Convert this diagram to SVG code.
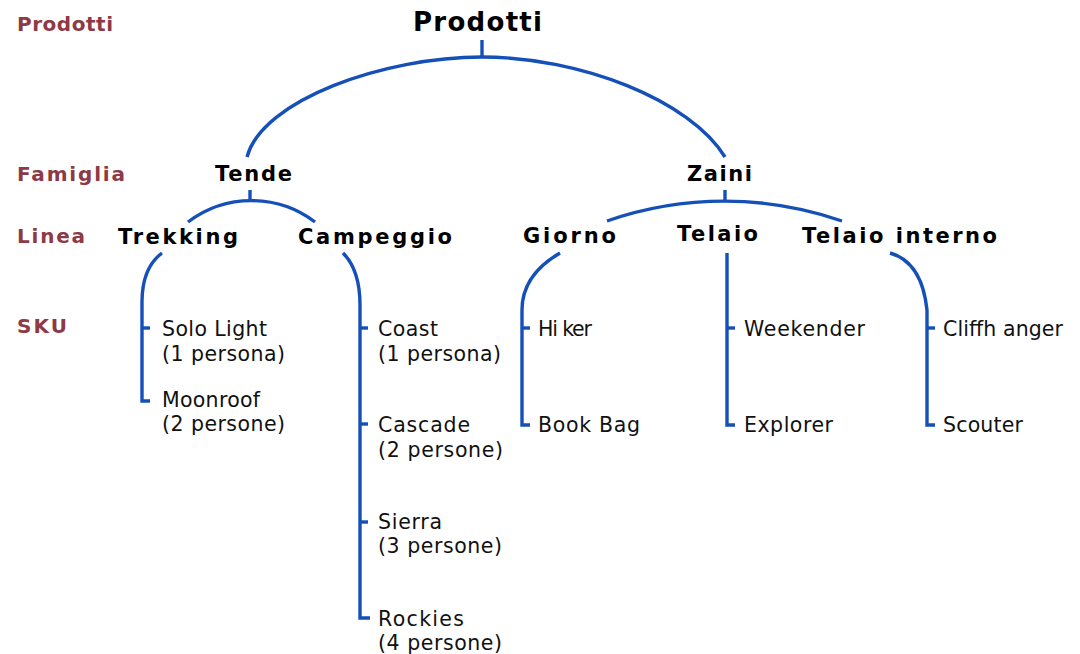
<svg xmlns="http://www.w3.org/2000/svg" width="1080" height="654" viewBox="0 0 1080 654">
  <style>
    .lvl { font-family: "DejaVu Sans", Verdana, sans-serif; font-weight: bold; font-size: 20px; fill: #8e3a46; }
    .title { font-family: "DejaVu Sans", Verdana, sans-serif; font-weight: bold; font-size: 26px; fill: #000; }
    .hd { font-family: "DejaVu Sans", Verdana, sans-serif; font-weight: bold; font-size: 21px; fill: #000; }
    .sku { font-family: "DejaVu Sans", Verdana, sans-serif; font-size: 20.5px; fill: #111; }
    .wire { fill: none; stroke: #1450b8; stroke-width: 3.4; stroke-linecap: butt; stroke-linejoin: miter; }
  </style>
  <rect width="1080" height="654" fill="#fff"/>

  <!-- level captions -->
  <g id="levels">
    <text class="lvl" x="17" y="31" textLength="96">Prodotti</text>
    <text class="lvl" x="17" y="181" textLength="108">Famiglia</text>
    <text class="lvl" x="17" y="243" textLength="68">Linea</text>
    <text class="lvl" x="17" y="333" textLength="50">SKU</text>
  </g>

  <!-- connectors -->
  <g id="connectors" class="wire">
    <!-- root -->
    <path d="M482,40 V57"/>
    <path d="M247,157 C262,100 384,57 482,57 C580,57 690,100 725,157"/>
    <!-- Tende -->
    <path d="M250,190 V201"/>
    <path d="M188,222 A105,105 0 0 1 315,222"/>
    <!-- Zaini -->
    <path d="M725,190 V201"/>
    <path d="M607,221 A358,358 0 0 1 842,221"/>
    <!-- Trekking -->
    <path d="M162,253 Q142,268 142,302 V401 H150"/>
    <path d="M142,328 H150"/>
    <!-- Campeggio -->
    <path d="M343,253 Q360,270 360,305 V618 H370"/>
    <path d="M360,328 H368"/>
    <path d="M360,424 H368"/>
    <path d="M360,522 H368"/>
    <!-- Giorno -->
    <path d="M560,253 Q522,275 522,310 V425 H530"/>
    <path d="M522,328 H530"/>
    <!-- Telaio -->
    <path d="M727,253 V425 H735"/>
    <path d="M727,328 H735"/>
    <!-- Telaio interno -->
    <path d="M890,253 Q922,262 927,310 V425 H935"/>
    <path d="M927,328 H935"/>
  </g>

  <g id="n-prodotti"><text class="title" x="413" y="31" textLength="129">Prodotti</text></g>

  <g id="n-tende"><text class="hd" x="215" y="181" textLength="77">Tende</text></g>
  <g id="n-zaini"><text class="hd" x="687" y="181" textLength="65">Zaini</text></g>

  <g id="n-trekking"><text class="hd" x="118" y="244" textLength="120">Trekking</text></g>
  <g id="n-campeggio"><text class="hd" x="298" y="244" textLength="154">Campeggio</text></g>
  <g id="n-giorno"><text class="hd" x="523" y="243" textLength="93">Giorno</text></g>
  <g id="n-telaio"><text class="hd" x="677" y="241" textLength="81">Telaio</text></g>
  <g id="n-telaio-interno"><text class="hd" x="802" y="243" textLength="195">Telaio interno</text></g>

  <g id="n-solo-light">
    <text class="sku" x="162" y="336" textLength="105">Solo Light</text>
    <text class="sku" x="162" y="361" textLength="123">(1 persona)</text>
  </g>
  <g id="n-moonroof">
    <text class="sku" x="162" y="407" textLength="98">Moonroof</text>
    <text class="sku" x="162" y="431" textLength="123">(2 persone)</text>
  </g>
  <g id="n-coast">
    <text class="sku" x="378" y="336" textLength="60">Coast</text>
    <text class="sku" x="378" y="361" textLength="123">(1 persona)</text>
  </g>
  <g id="n-cascade">
    <text class="sku" x="378" y="432" textLength="92">Cascade</text>
    <text class="sku" x="378" y="457" textLength="125">(2 persone)</text>
  </g>
  <g id="n-sierra">
    <text class="sku" x="378" y="529" textLength="64">Sierra</text>
    <text class="sku" x="378" y="553" textLength="124">(3 persone)</text>
  </g>
  <g id="n-rockies">
    <text class="sku" x="378" y="626" textLength="86">Rockies</text>
    <text class="sku" x="378" y="650" textLength="124">(4 persone)</text>
  </g>
  <g id="n-hiker"><text class="sku" x="538" y="336" textLength="54">Hi ker</text></g>
  <g id="n-book-bag"><text class="sku" x="538" y="432" textLength="102">Book Bag</text></g>
  <g id="n-weekender"><text class="sku" x="744" y="336" textLength="121">Weekender</text></g>
  <g id="n-explorer"><text class="sku" x="744" y="432" textLength="89">Explorer</text></g>
  <g id="n-cliffhanger"><text class="sku" x="943" y="336" textLength="120">Cliffh anger</text></g>
  <g id="n-scouter"><text class="sku" x="943" y="432" textLength="80">Scouter</text></g>
</svg>
